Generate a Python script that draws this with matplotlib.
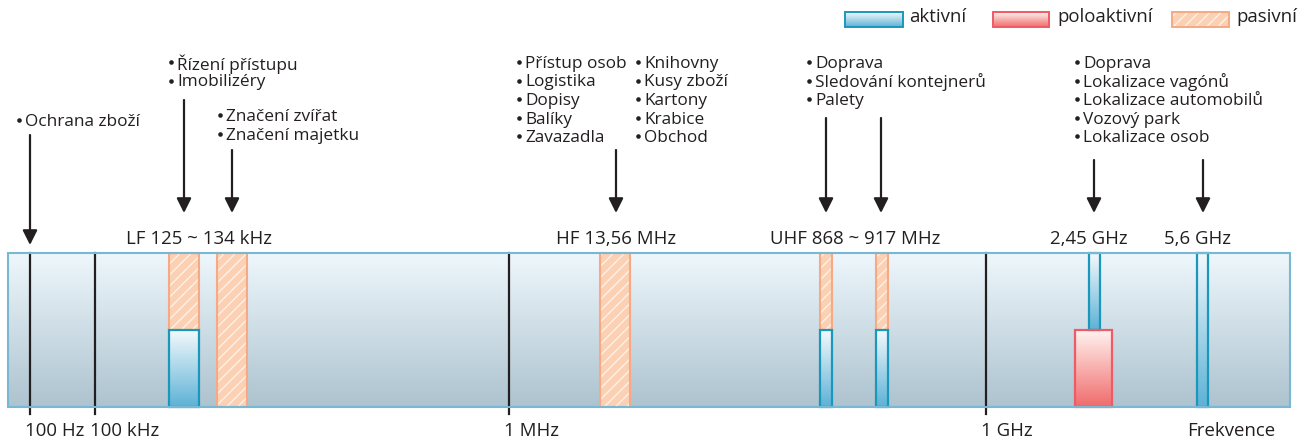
import numpy as np
import matplotlib
matplotlib.use("Agg")
from matplotlib import pyplot as plt
from matplotlib.patches import Rectangle
from matplotlib.colors import LinearSegmentedColormap

plt.rcParams['font.family'] = ['Open Sans', 'DejaVu Sans']

# schematic frequency axis (arbitrary units, left to right)
scale_pos = [30, 95, 509, 986]
scale_labels = ['100 Hz', '100 kHz', '1 MHz', '1 GHz']

# tag bands: (left, width, part) part: 'full', 'top', 'bottom'
passive_bands = [(169, 30, 'top'), (217, 30, 'full'), (600, 30, 'full'),
                 (820, 12, 'top'), (876, 12, 'top')]
active_bands = [(169, 30, 'bottom'), (820, 12, 'bottom'), (876, 12, 'bottom'),
                (1089, 11, 'top'), (1197, 11, 'full')]
semiactive_bands = [(1075, 37, 'bottom')]

band_names = ['LF 125 ~ 134 kHz', 'HF 13,56 MHz', 'UHF 868 ~ 917 MHz', '2,45 GHz', '5,6 GHz']
band_name_x = [199, 616, 855, 1089, 1198]

# applications -> arrows
arrow_x = [30, 184, 232, 616, 826, 881, 1094, 1203]
arrow_top = [135, 100, 150, 150, 118, 118, 160, 160]

apps = [
    (16, 122, ['Ochrana zboží']),
    (168, 64, ['Řízení přístupu', 'Imobilizéry']),
    (217, 117, ['Značení zvířat', 'Značení majetku']),
    (516, 64, ['Přístup osob', 'Logistika', 'Dopisy', 'Balíky', 'Zavazadla']),
    (635, 64, ['Knihovny', 'Kusy zboží', 'Kartony', 'Krabice', 'Obchod']),
    (806, 64, ['Doprava', 'Sledování kontejnerů', 'Palety']),
    (1074, 64, ['Doprava', 'Lokalizace vagónů', 'Lokalizace automobilů', 'Vozový park', 'Lokalizace osob']),
]

legend_labels = ['aktivní', 'poloaktivní', 'pasivní']
legend_x = [845, 993, 1172]

# geometry
y_top, y_mid, y_bot = 253, 330, 407
x_left, x_right = 8, 1290
txt = '#231f20'
fs = 12.4
fs_big = 13.4

fig = plt.figure(figsize=(13.04, 4.41), dpi=100)
ax = fig.add_axes([0, 0, 1, 1])
ax.set_xlim(0, 1304)
ax.set_ylim(441, 0)
ax.axis('off')

grad = np.linspace(0, 1, 256).reshape(-1, 1)
bg_cmap = LinearSegmentedColormap.from_list('bg', ['#eef7fc', '#adc3cf'])
act_cmap = LinearSegmentedColormap.from_list('act', ['#f4f9fc', '#5cb2d6'])
semi_cmap = LinearSegmentedColormap.from_list('semi', ['#fff3f0', '#f06b6b'])

ax.imshow(grad, cmap=bg_cmap, aspect='auto', extent=(x_left, x_right, y_bot, y_top), zorder=1)
ax.add_patch(Rectangle((x_left, y_top), x_right - x_left, y_bot - y_top,
                       fill=False, edgecolor='#79b7d3', lw=1.5, zorder=6))


def span(part):
    if part == 'full':
        return y_top, y_bot
    if part == 'top':
        return y_top, y_mid
    return y_mid, y_bot


for x, w, part in passive_bands:
    y0, y1 = span(part)
    ax.add_patch(Rectangle((x, y0), w, y1 - y0, facecolor='#fbd0b3', edgecolor='#fff1e8',
                           hatch='///', lw=0, zorder=3))
    ax.add_patch(Rectangle((x, y0), w, y1 - y0, fill=False, edgecolor='#f6a982', lw=1.5, zorder=4))

for x, w, part in active_bands:
    y0, y1 = span(part)
    ax.imshow(grad, cmap=act_cmap, aspect='auto', extent=(x, x + w, y1, y0), zorder=3)
    ax.add_patch(Rectangle((x, y0), w, y1 - y0, fill=False, edgecolor='#1a97bb', lw=1.6, zorder=4))

for x, w, part in semiactive_bands:
    y0, y1 = span(part)
    ax.imshow(grad, cmap=semi_cmap, aspect='auto', extent=(x, x + w, y1, y0), zorder=3)
    ax.add_patch(Rectangle((x, y0), w, y1 - y0, fill=False, edgecolor='#ee5a66', lw=1.6, zorder=4))

for x, lab in zip(scale_pos, scale_labels):
    ax.plot([x, x], [y_top, 414], color='#231f20', lw=1.6, zorder=5)
    ax.text(x - 5, 431, lab, fontsize=fs_big, color=txt, ha='left', va='center')
ax.text(1187, 431, 'Frekvence', fontsize=fs_big, color=txt, ha='left', va='center')

for x, lab in zip(band_name_x, band_names):
    ax.text(x, 239, lab, fontsize=fs_big, color=txt, ha='center', va='center')

for x, y in zip(arrow_x, arrow_top):
    y_end = 245 if x == 30 else 213
    ax.annotate('', xy=(x, y_end), xytext=(x, y),
                arrowprops=dict(arrowstyle='-|>', color='#231f20', lw=1.6,
                                mutation_scale=22, shrinkA=0, shrinkB=0))

for x, y, lines in apps:
    for i, line in enumerate(lines):
        ax.plot(x + 3, y + i * 18.5 - 2, 'o', ms=3.3, color=txt, mec='none')
        ax.text(x + 9, y + i * 18.5, line, fontsize=fs, color=txt, ha='left', va='center')

# legend
ax.add_patch(Rectangle((845, 12), 58, 15, facecolor='none', edgecolor='#1a97bb', lw=1.4, zorder=4))
ax.imshow(grad, cmap=act_cmap, aspect='auto', extent=(845, 903, 27, 12), zorder=3)
ax.imshow(grad, cmap=semi_cmap, aspect='auto', extent=(993, 1049, 27, 12), zorder=3)
ax.add_patch(Rectangle((993, 12), 56, 15, facecolor='none', edgecolor='#ee5a66', lw=1.4, zorder=4))
ax.add_patch(Rectangle((1172, 12), 57, 15, facecolor='#fbd0b3', edgecolor='#fff1e8', hatch='///', lw=0, zorder=3))
ax.add_patch(Rectangle((1172, 12), 57, 15, fill=False, edgecolor='#f6a982', lw=1.4, zorder=4))
for x, lab in zip(legend_x, legend_labels):
    ax.text(x + 64, 17, lab, fontsize=fs_big, color=txt, ha='left', va='center')

fig.savefig('out.png', dpi=100)
